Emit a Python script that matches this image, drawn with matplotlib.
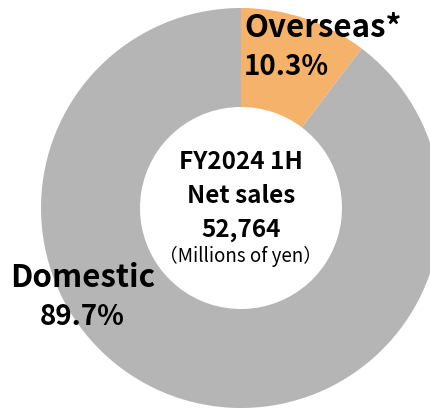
import matplotlib
matplotlib.use("Agg")
import matplotlib.pyplot as plt

plt.rcParams['font.family'] = ['Noto Sans CJK JP', 'DejaVu Sans']

# data
segments = ['Overseas*', 'Domestic']
shares = [10.3, 89.7]
colors = ['#f5b26b', '#b5b5b5']
center_lines = ['FY2024 1H', 'Net sales', '52,764']
unit_label = '（Millions of yen）'

W, H = 431, 408
fig = plt.figure(figsize=(W / 100, H / 100), dpi=100)
ax = fig.add_axes([0, 0, 1, 1])

cx, cy, r = 241, 200, 200
ax.pie(shares, colors=colors, startangle=90, counterclock=False,
       radius=r, center=(cx, cy), frame=True,
       wedgeprops=dict(width=99, linewidth=0))
ax.set_xlim(0, W)
ax.set_ylim(0, H)
ax.set_aspect('equal')
ax.axis('off')

# segment labels (baselines)
big = dict(fontsize=22.5, fontweight='semibold', va='baseline')
pct = dict(fontsize=20, fontweight='semibold', va='baseline')
ax.text(244, H - 37, segments[0], ha='left', **big)
ax.text(244, H - 75, f'{shares[0]}%', ha='left', **pct)
ax.text(83, H - 287, segments[1], ha='center', **big)
ax.text(82, H - 325, f'{shares[1]}%', ha='center', **pct)

# centre text
for y, s in zip([169, 203, 237], center_lines):
    ax.text(cx, H - y, s, ha='center', va='baseline', fontsize=17.5, fontweight='semibold')
ax.text(cx, H - 262, unit_label, ha='center', va='baseline', fontsize=13.5)

fig.savefig('out.png', dpi=100)
